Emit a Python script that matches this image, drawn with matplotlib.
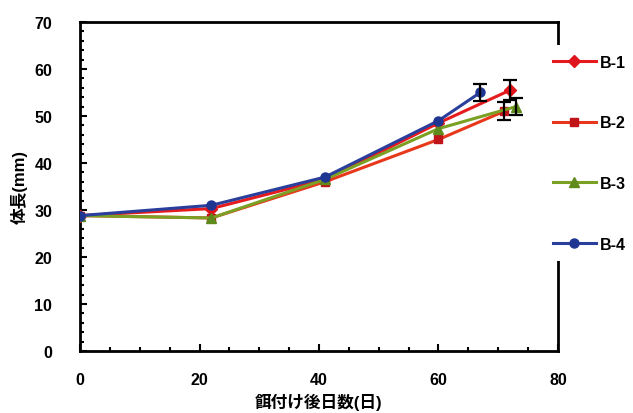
import matplotlib
matplotlib.use('Agg')
import matplotlib.pyplot as plt
from matplotlib.ticker import MultipleLocator

plt.rcParams['font.family'] = ['Liberation Sans', 'Noto Sans CJK JP', 'DejaVu Sans']
plt.rcParams['font.weight'] = 'bold'
plt.rcParams['xtick.major.pad'] = 15
plt.rcParams['ytick.major.pad'] = 20
plt.rcParams['ytick.minor.pad'] = 20

# days after first feeding / body length (mm)
labels = ['B-1', 'B-2', 'B-3', 'B-4']
days_b1 = [0, 22, 41, 60, 72]
days_b2 = [0, 22, 41, 60, 71]
days_b3 = [0, 22, 41, 60, 73]
days_b4 = [0, 22, 41, 60, 67]
len_b1 = [28.8, 30.3, 36.5, 48.5, 55.5]
len_b2 = [28.8, 28.3, 36.0, 45.0, 51.0]
len_b3 = [28.8, 28.3, 36.5, 47.3, 52.0]
len_b4 = [28.8, 31.0, 37.0, 49.0, 55.0]
err_last = [2.1, 1.9, 1.8, 1.9]  # error bar only on final point

series = [(days_b1, len_b1), (days_b2, len_b2), (days_b3, len_b3), (days_b4, len_b4)]
line_cols = ['#e51b1e', '#e8381c', '#7aa024', '#2a3f9c']
mark_cols = ['#e0141c', '#c01418', '#5f8a1c', '#1f3592']
markers = ['D', 's', '^', 'o']
msizes = [6, 6, 7, 6.5]

fig = plt.figure(figsize=(6.33, 4.14), dpi=100)
ax = fig.add_axes([0.1264, 0.1498, 0.7551, 0.7947])

handles = []
for (d, v), lc, mc, m, ms, lab in zip(series, line_cols, mark_cols, markers, msizes, labels):
    h, = ax.plot(d, v, color=lc, lw=2.2, marker=m, ms=ms, mfc=mc, mec=mc, label=lab, zorder=3)
    handles.append(h)

for (d, v), e in zip(series, err_last):
    ax.errorbar([d[-1]], [v[-1]], yerr=[e], fmt='none', ecolor='black',
                elinewidth=1.6, capsize=5, capthick=1.6, zorder=4)

ax.set_xlim(0, 80)
ax.set_ylim(0, 70)
ax.xaxis.set_major_locator(MultipleLocator(20))
ax.xaxis.set_minor_locator(MultipleLocator(5))
ax.yaxis.set_major_locator(MultipleLocator(10))
ax.yaxis.set_minor_locator(MultipleLocator(2))
ax.tick_params(which='both', direction='in', width=1.5, labelsize=11.5)
ax.tick_params(which='major', length=5)
ax.tick_params(which='minor', length=3)
ax.tick_params(axis='x', which='major', pad=15)
ax.tick_params(axis='y', which='major', pad=20)
for lab in ax.get_xticklabels() + ax.get_yticklabels():
    lab.set_fontweight('bold')
for s in ax.spines.values():
    s.set_linewidth(2)

ax.set_xlabel('餌付け後日数(日)', fontsize=12, fontweight='bold', labelpad=4)
ax.set_ylabel('体長(mm)', fontsize=12, fontweight='bold', labelpad=5)

leg = ax.legend(handles=handles, loc='upper left', bbox_to_anchor=(0.858, 0.888),
                bbox_transform=fig.transFigure, frameon=True, fancybox=False,
                facecolor='white', edgecolor='none', framealpha=1,
                fontsize=11.5, labelspacing=2.85, handlelength=2.7,
                handletextpad=0.25, borderpad=0.6, borderaxespad=0)
leg.set_zorder(10)
for t in leg.get_texts():
    t.set_fontweight('bold')

fig.savefig('out.png', dpi=100)
